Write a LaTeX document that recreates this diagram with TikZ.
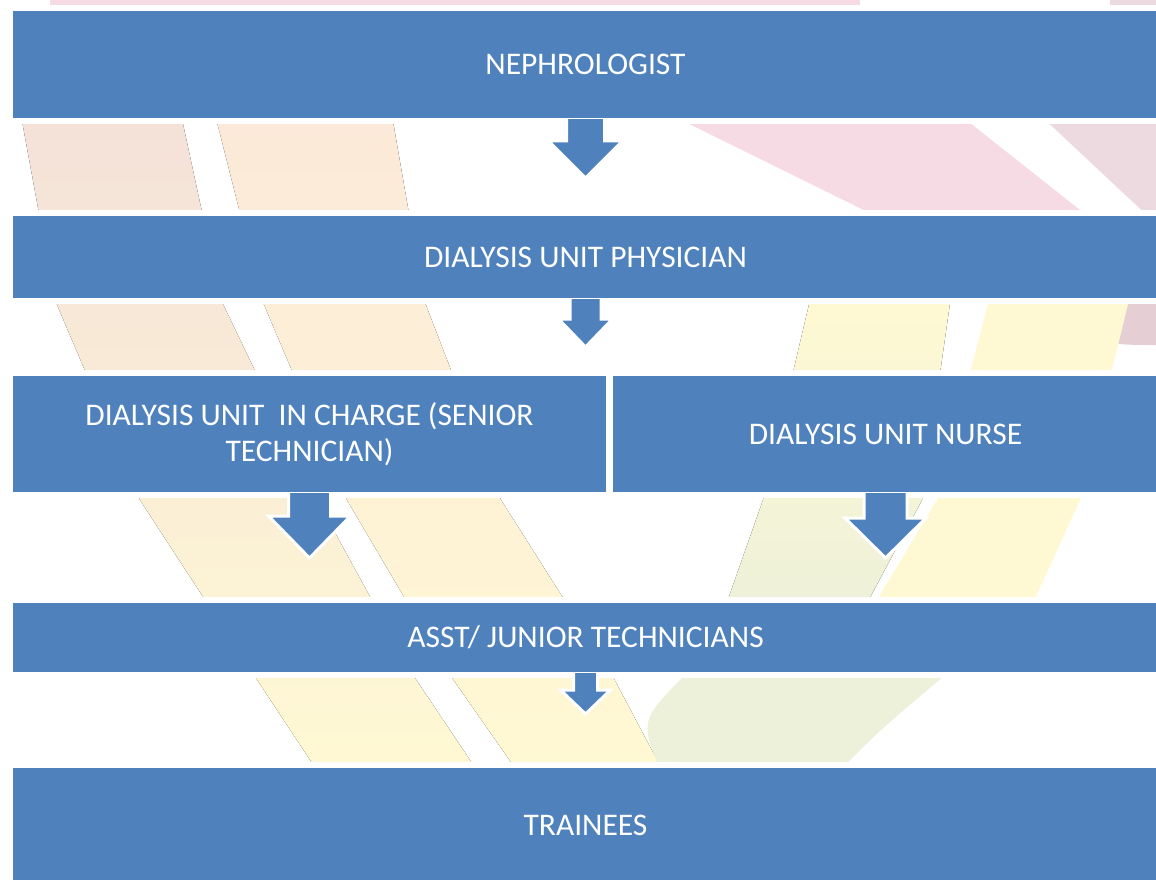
\documentclass[tikz,border=0pt]{standalone}
\usepackage{fontspec}
\setmainfont{Carlito}
\definecolor{boxblue}{HTML}{4F81BD}
\definecolor{stripepeach}{HTML}{F4E1D9}
\definecolor{stripeorange}{HTML}{FCE9D9}
\definecolor{stripeyellow}{HTML}{FFF9D3}
\definecolor{stripegreen}{HTML}{EEF1D9}
\definecolor{stripepink}{HTML}{F7DBE4}
\definecolor{stripemauve}{HTML}{EDDAE0}
\pgfdeclarelayer{back}
\pgfdeclarelayer{arrows}
\pgfsetlayers{back,arrows,main}
\tikzset{
  rolebox/.style={fill=boxblue, draw=white, line width=1pt, text=white,
    minimum height=#1, anchor=north west, inner sep=0pt, align=center,
    font=\fontsize{31.5}{36}\selectfont},
  blockarrow/.style={fill=boxblue, draw=white, line width=3pt, line join=miter},
  halo/.style={draw=white, line width=10pt},
}
\begin{document}
\begin{tikzpicture}[x=1pt,y=-1pt]
      \useasboundingbox (0,0) rectangle (1156,880);
      \begin{pgfonlayer}{back}
      \fill[white] (0,0) rectangle (1156,880);
      %faint watermark
      \fill[stripepink] (50,0) rectangle (860,12);
      \fill[stripemauve] (1110,0) rectangle (1156,12);
      \fill[top color=stripepeach,bottom color=stripeyellow] (20,110) -- (55,300) -- (140,500) -- (254,675) -- (320,775) -- (480,775) -- (413,675) -- (317,500) -- (221,300) -- (180,110) -- cycle;
      \fill[top color=stripeorange,bottom color=stripeyellow] (214,110) -- (262,300) -- (347,500) -- (450,675) -- (520,775) -- (665,775) -- (612,675) -- (501,500) -- (424,300) -- (391,110) -- cycle;
      \fill[stripepink] (671,115) -- (960,115) -- (1090,218) -- (880,218) -- cycle;
      \fill[stripemauve] (1040,115) -- (1156,115) -- (1156,218) -- (1150,218) -- cycle;
      \fill[stripemauve!80!black!30!stripepink] (1062,296) -- (1156,296) -- (1156,345) .. controls (1100,345) .. (1062,296) -- cycle;
      \fill[top color=stripeyellow,bottom color=stripegreen] (811,296) -- (951,296) -- (922,500) -- (866,605) -- (726,605) -- (763,500) -- cycle;
      \fill[stripeyellow] (990,296) -- (1130,296) -- (1080,500) -- (1032,605) -- (874,605) -- (937,500) -- cycle;
      \fill[stripegreen] (690,670) -- (951,670) .. controls (880,730) .. (840,770) -- (660,770) .. controls (640,720) .. (690,670) -- cycle;
      \end{pgfonlayer}
      %roles
      \node[rolebox=108pt, minimum width=1146pt] (neph) at (12,10) {NEPHROLOGIST};
      \node[rolebox=83pt, minimum width=1146pt] (phys) at (12,215) {DIALYSIS UNIT PHYSICIAN};
      \node[rolebox=117pt, minimum width=594pt] (charge) at (12,375) {DIALYSIS UNIT~~IN CHARGE (SENIOR\\TECHNICIAN)};
      \node[rolebox=117pt, minimum width=546pt] (nurse) at (612,375) {DIALYSIS UNIT NURSE};
      \node[rolebox=70pt, minimum width=1146pt] (asst) at (12,602) {ASST/ JUNIOR TECHNICIANS};
      \node[rolebox=116pt, minimum width=1146pt] (train) at (12,767) {TRAINEES};
      %white gap round the boxes
      \begin{pgfonlayer}{back}
      \foreach \n in {neph,phys,charge,nurse,asst,train}
        \draw[halo] (\n.north west) rectangle (\n.south east);
      \end{pgfonlayer}
      %block arrows
      \begin{pgfonlayer}{arrows}
      \foreach \src/\sw/\sl/\hw/\hl in {neph/19/22/37/37, phys/15.5/20/27/28, charge/21/23/41/42, nurse/21.5/25/40.5/40, asst/12/17/25/24}
        \filldraw[blockarrow] (\src.south) ++(-\sw,-4) -- ++(0,{\sl+4}) -- ++({\sw-\hw},0) -- ++(\hw,\hl) -- ++(\hw,-\hl) -- ++({\sw-\hw},0) -- ++(0,{-\sl-4}) -- cycle;
      \end{pgfonlayer}
\end{tikzpicture}
\end{document}
